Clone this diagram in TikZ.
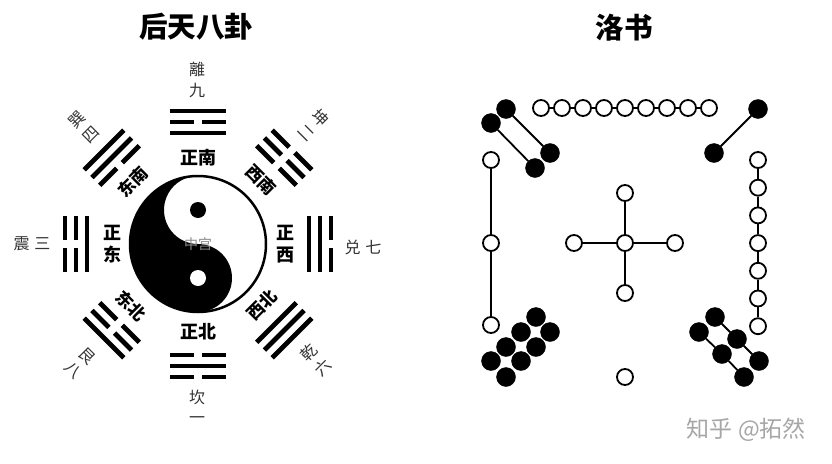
\documentclass[tikz,border=0pt]{standalone}
\usepackage{fontspec}
\newfontfamily\cjk{Noto Sans CJK SC}
\newcommand\yao[2]{%
  \ifnum#2=1 \draw[yaoline] (-28,-#1) -- (28,-#1);%
  \else \draw[yaoline] (-28,-#1) -- (-4,-#1); \draw[yaoline] (4,-#1) -- (28,-#1);\fi}
\newcommand\gua[4]{\begin{scope}[shift={(C)},rotate=#1]\yao{111}{#2}\yao{122}{#3}\yao{133}{#4}\end{scope}}
\begin{document}
\begin{tikzpicture}[x=1pt,y=-1pt,
  yaoline/.style={line width=4.8pt, line cap=butt},
  dirlabel/.style={font=\cjk\bfseries\fontsize{18}{21.5}\selectfont, inner sep=0pt, align=center},
  diaglabel/.style={font=\cjk\bfseries\fontsize{17}{20}\selectfont, inner sep=0pt},
  gualabel/.style={font=\cjk\fontsize{16}{20.5}\selectfont, text=black!80, inner sep=0pt, align=center},
  titlelabel/.style={font=\cjk\bfseries\fontsize{28.5}{30}\selectfont, inner sep=0pt},
  wdot/.style={circle, draw=black, line width=1.8pt, fill=white, minimum size=16pt, inner sep=0pt},
  bdot/.style={circle, draw=black, fill=black, minimum size=19pt, inner sep=0pt},
  link/.style={line width=1.8pt}]
\useasboundingbox[fill=white] (0,0) rectangle (832,463);
% ---------------- left: 后天八卦 ----------------
\node[titlelabel] (t1) at (196,27) {后天八卦};
\coordinate (C) at (198,244);
% trigrams: rotation, bottom, middle, top (1 solid, 0 broken)
\gua{0}{1}{0}{1}     % Li
\gua{45}{0}{1}{1}    % Sun
\gua{-45}{0}{0}{0}   % Kun
\gua{90}{1}{0}{0}    % Zhen
\gua{-90}{1}{1}{0}   % Dui
\gua{180}{0}{1}{0}   % Kan
\gua{135}{0}{0}{1}   % Gen
\gua{-135}{1}{1}{1}  % Qian
% yin-yang
\begin{scope}[shift={(C)},yscale=-1]
  \fill[white] (0,0) circle[radius=68];
  \fill[black] (0,68) arc[start angle=90, end angle=270, radius=68]
     arc[start angle=-90, end angle=90, radius=34]
     arc[start angle=270, end angle=90, radius=34] -- cycle;
  \fill[black] (0,34) circle[radius=8];
  \fill[white] (0,-34) circle[radius=8];
  \draw[line width=2.5pt] (0,0) circle[radius=68];
\end{scope}
\node[font=\cjk\fontsize{14}{14}\selectfont, text=black!45, inner sep=0pt] (zg) at (C) {中宫};
% direction labels
\node[dirlabel] (zn) at (198,158) {正南};
\node[dirlabel] (zb) at (198,332) {正北};
\node[dirlabel] (zd) at (112,244) {正\\东};
\node[dirlabel] (zx) at (285,244) {正\\西};
\node[diaglabel, rotate=45] (dn) at (133,182) {东南};
\node[diaglabel, rotate=-45] (xn) at (261,180) {西南};
\node[diaglabel, rotate=-45] (db) at (131,306) {东北};
\node[diaglabel, rotate=45] (xb) at (262,305) {西北};
% trigram names
\node[gualabel] (li) at (197,80) {離\\九};
\node[gualabel, rotate=45] (xun) at (84,127) {巽\\四};
\node[gualabel, rotate=-45] (kun) at (314,125) {坤\\二};
\node[gualabel] (zhen) at (32,244) {震\hspace{5pt}三};
\node[gualabel] (dui) at (363,247) {兑\hspace{5pt}七};
\node[gualabel] (kan) at (197,407) {坎\\一};
\node[gualabel, rotate=-45] (gen) at (80,363) {艮\\八};
\node[gualabel, rotate=45] (qian) at (316,360) {乾\\六};
% ---------------- right: 洛书 ----------------
\node[titlelabel] (t2) at (624,28) {洛书};
% top row (9)
\foreach \i in {1,...,9} \node[wdot] (n\i) at ({541+21*(\i-1)},108) {};
\foreach \i [evaluate=\i as \j using int(\i+1)] in {1,...,8} \draw[link] (n\i) -- (n\j);
% top-left (4)
\node[bdot] (a1) at (506,109) {};
\node[bdot] (a2) at (491,123) {};
\node[bdot] (a3) at (550,153) {};
\node[bdot] (a4) at (535,168) {};
\draw[link] (a1) -- (a3);
\draw[link] (a2) -- (a4);
% top-right (2)
\node[bdot] (c1) at (758,109) {};
\node[bdot] (c2) at (714,153) {};
\draw[link] (c1) -- (c2);
% left (3)
\node[wdot] (l1) at (491,160) {};
\node[wdot] (l2) at (491,243) {};
\node[wdot] (l3) at (491,325) {};
\draw[link] (l1) -- (l2);
\draw[link] (l2) -- (l3);
% centre (5)
\node[wdot] (m0) at (625,243) {};
\node[wdot] (mn) at (625,193) {};
\node[wdot] (mw) at (574,243) {};
\node[wdot] (me) at (675,243) {};
\node[wdot] (ms) at (625,293) {};
\foreach \k in {mn,mw,me,ms} \draw[link] (m0) -- (\k);
% right (7)
\foreach \i in {1,...,7} \node[wdot] (r\i) at (758,{160+27.7*(\i-1)}) {};
\foreach \i [evaluate=\i as \j using int(\i+1)] in {1,...,6} \draw[link] (r\i) -- (r\j);
% bottom-left (8)
\node[bdot] (e1) at (536,317) {};
\node[bdot] (e2) at (521,332) {};
\node[bdot] (e3) at (506,347) {};
\node[bdot] (e4) at (491,361) {};
\node[bdot] (e5) at (550,332) {};
\node[bdot] (e6) at (536,347) {};
\node[bdot] (e7) at (521,361) {};
\node[bdot] (e8) at (506,377) {};
% bottom centre (1)
\node[wdot] (o1) at (625,377) {};
% bottom-right (6)
\node[bdot] (s1) at (715,317) {};
\node[bdot] (s2) at (737,339) {};
\node[bdot] (s3) at (759,361) {};
\node[bdot] (s4) at (699,332) {};
\node[bdot] (s5) at (722,354) {};
\node[bdot] (s6) at (744,377) {};
\draw[link] (s1) -- (s2);
\draw[link] (s2) -- (s3);
\draw[link] (s4) -- (s5);
\draw[link] (s5) -- (s6);
% watermark
\node[font=\cjk\fontsize{23}{23}\selectfont, text=black!35, inner sep=0pt] (wm) at (746,430) {知乎\hspace{6pt}@拓然};
\end{tikzpicture}
\end{document}
